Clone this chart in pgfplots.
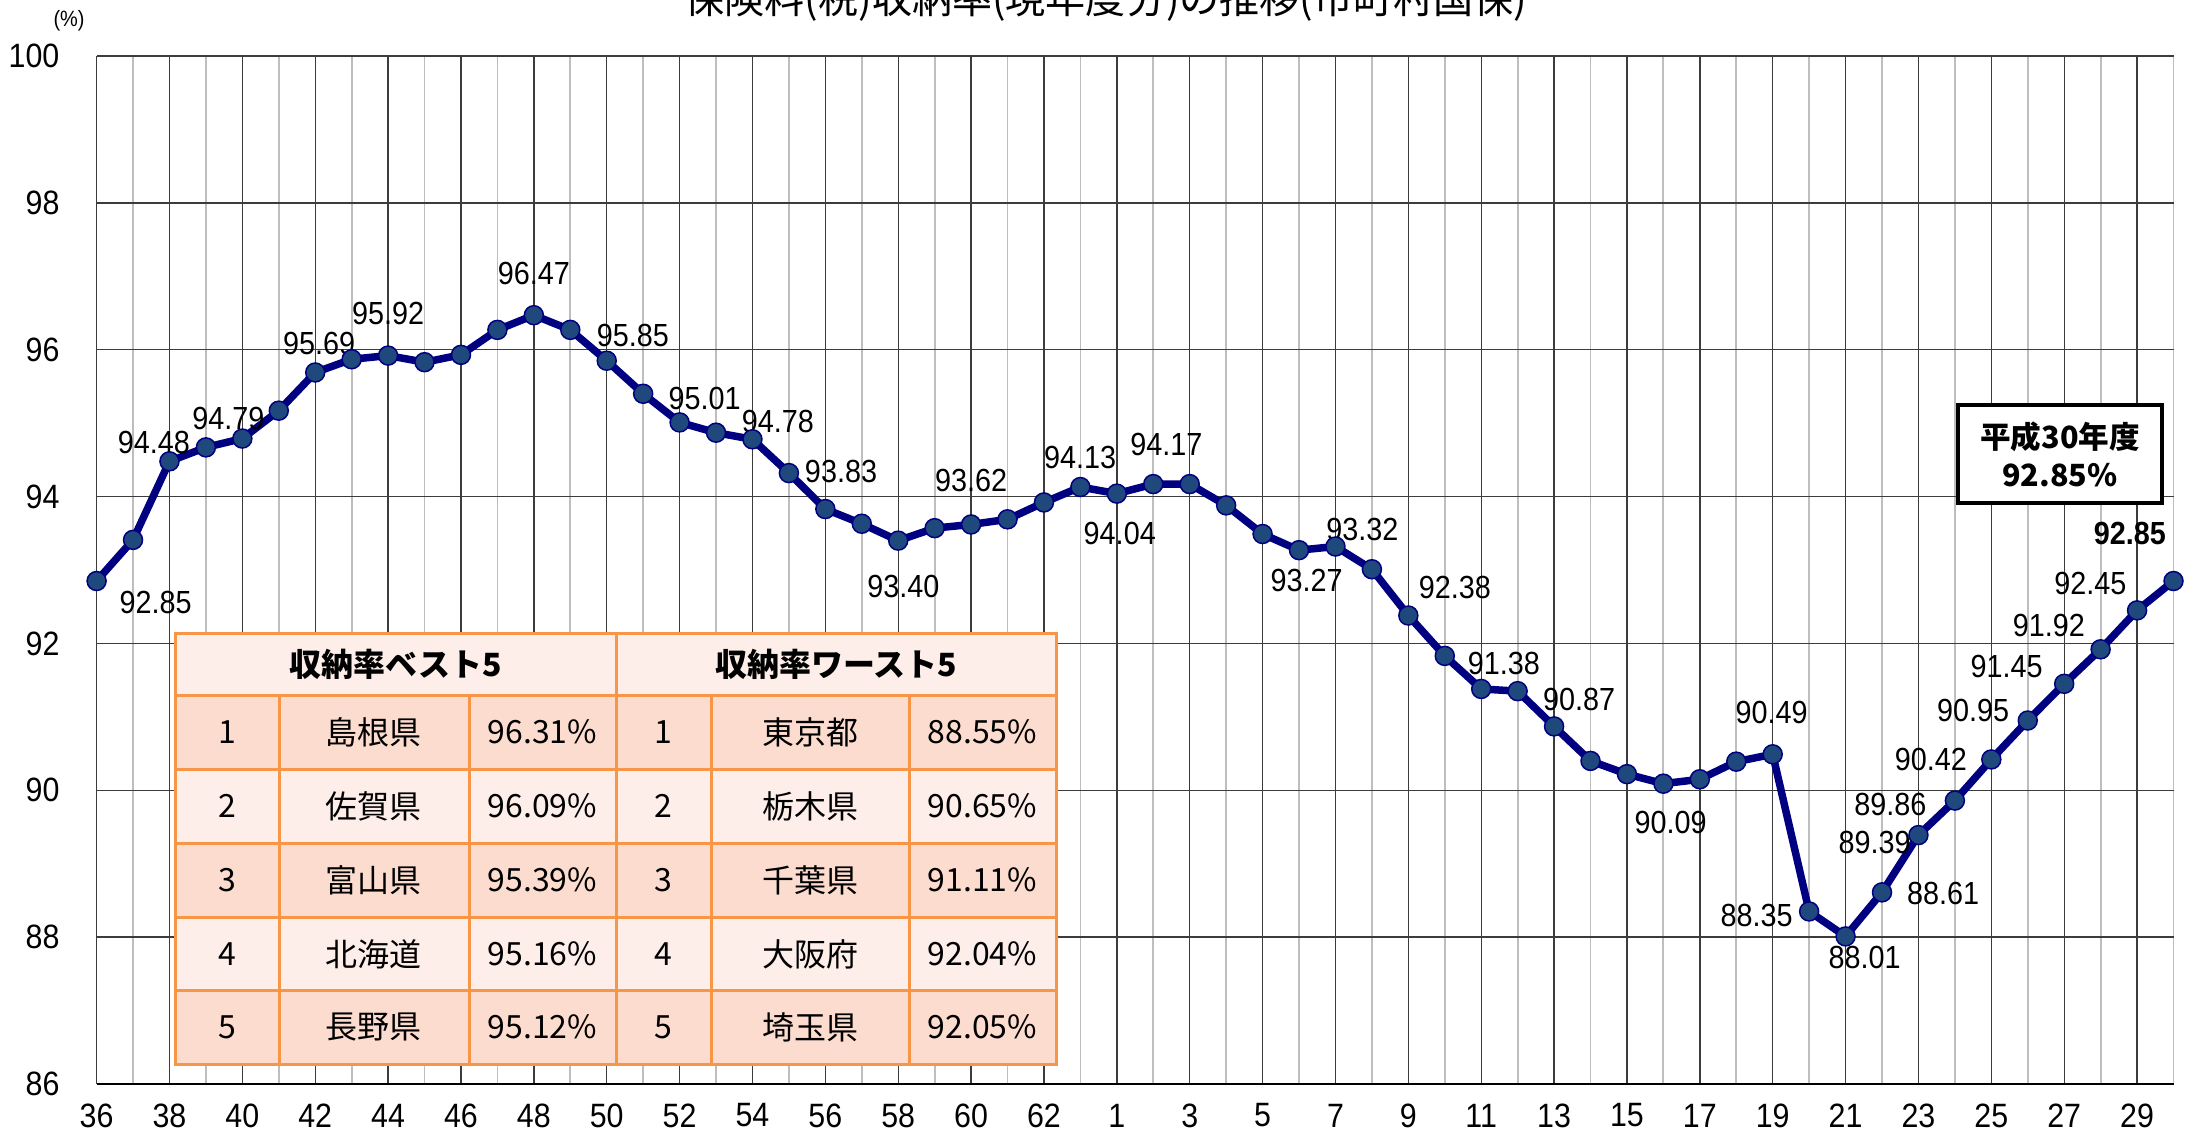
\documentclass[border=0pt]{standalone}
\usepackage{fontspec}
\setmainfont{Liberation Sans}
\newfontfamily\numfont{Liberation Sans}[FakeStretch=0.9]
\newfontfamily\jp{Noto Sans CJK JP}
\usepackage{pgfplots}
\usepackage{pgfplotstable}
\pgfplotsset{compat=1.18}

\definecolor{lineblue}{RGB}{0,0,128}
\definecolor{markblue}{RGB}{31,73,125}
\definecolor{gridmajor}{RGB}{60,60,60}
\definecolor{gridminor}{RGB}{190,190,190}
\definecolor{tborder}{RGB}{247,150,70}
\definecolor{tlight}{RGB}{253,238,233}
\definecolor{tdark}{RGB}{252,220,207}

% index 0 = S36 ... 27 = S63, 28 = H1 ... 57 = H30
\pgfplotstableread{
idx val
0 92.85
1 93.41
2 94.48
3 94.67
4 94.79
5 95.17
6 95.69
7 95.87
8 95.92
9 95.83
10 95.93
11 96.27
12 96.47
13 96.27
14 95.85
15 95.40
16 95.01
17 94.87
18 94.78
19 94.32
20 93.83
21 93.63
22 93.40
23 93.57
24 93.62
25 93.69
26 93.92
27 94.13
28 94.04
29 94.17
30 94.17
31 93.88
32 93.49
33 93.27
34 93.32
35 93.01
36 92.38
37 91.83
38 91.38
39 91.35
40 90.87
41 90.40
42 90.22
43 90.09
44 90.15
45 90.39
46 90.49
47 88.35
48 88.01
49 88.61
50 89.39
51 89.86
52 90.42
53 90.95
54 91.45
55 91.92
56 92.45
57 92.85
}\ratedata

\newcommand{\lbl}[3]{\node[font=\numfont\fontsize{9.1}{10}\selectfont, inner sep=0pt] at (axis cs:#1,#2) {#3};}

\begin{document}
\begin{tikzpicture}
\begin{axis}[
    at={(9.66mm,5.0mm)}, anchor=south west,
    scale only axis,
    width=207.69mm, height=102.8mm,
    xmin=0, xmax=57, ymin=86, ymax=100,
    axis x line=bottom, axis y line=left,
    axis line style={-},
    x axis line style={black, line width=0.22mm},
    y axis line style={gridmajor, line width=0.15mm},
    xtick={0,2,...,56},
    xticklabels={36,38,40,42,44,46,48,50,52,54,56,58,60,62,1,3,5,7,9,11,13,15,17,19,21,23,25,27,29},
    minor xtick={1,3,...,57},
    ytick={86,88,...,100},
    grid=both,
    major grid style={gridmajor, line width=0.14mm},
    minor grid style={gridminor, line width=0.18mm},
    tick style={draw=none},
    /pgf/number format/assume math mode=true,
    tick label style={font=\numfont\fontsize{9.6}{10}\selectfont},
    xticklabel style={anchor=center, inner sep=0pt, yshift=-2.4mm},
    yticklabel style={anchor=east, inner sep=0pt, xshift=-2.9mm},
    clip=false,
]
\addplot[lineblue, line width=0.75mm, mark=*, mark size=0.95mm,
    mark options={fill=markblue, draw=lineblue, line width=0.15mm}]
    table[x=idx, y=val] {\ratedata};

\lbl{1.62}{92.56}{92.85}
\lbl{1.57}{94.73}{94.48}
\lbl{3.62}{95.06}{94.79}
\lbl{6.11}{96.09}{95.69}
\lbl{8.0}{96.49}{95.92}
\lbl{12.0}{97.04}{96.47}
\lbl{14.72}{96.19}{95.85}
\lbl{16.69}{95.34}{95.01}
\lbl{18.7}{95.02}{94.78}
\lbl{20.43}{94.34}{93.83}
\lbl{22.14}{92.77}{93.40}
\lbl{24.0}{94.22}{93.62}
\lbl{26.99}{94.53}{94.13}
\lbl{28.08}{93.50}{94.04}
\lbl{29.36}{94.71}{94.17}
\lbl{33.21}{92.86}{93.27}
\lbl{34.74}{93.55}{93.32}
\lbl{37.28}{92.76}{92.38}
\lbl{38.62}{91.73}{91.38}
\lbl{40.69}{91.23}{90.87}
\lbl{43.2}{89.56}{90.09}
\lbl{45.97}{91.06}{90.49}
\lbl{45.56}{88.29}{88.35}
\lbl{48.52}{87.72}{88.01}
\lbl{50.68}{88.60}{88.61}
\lbl{48.8}{89.29}{89.39}
\lbl{49.23}{89.81}{89.86}
\lbl{50.34}{90.42}{90.42}
\lbl{51.5}{91.08}{90.95}
\lbl{52.42}{91.68}{91.45}
\lbl{53.58}{92.25}{91.92}
\lbl{54.72}{92.82}{92.45}
\node[font=\numfont\bfseries\fontsize{9.1}{10}\selectfont, inner sep=0pt] at (axis cs:55.8,93.50) {92.85};
\end{axis}

% title (cut by the top edge), unit label
\node[font=\jp\fontsize{11.4}{12}\selectfont, anchor=base] at (110.6mm,112.0mm)
    {保険料(税)収納率(現年度分)の推移(市町村国保)};
\node[font=\numfont\fontsize{6.3}{7}\selectfont, inner sep=0pt] at (6.9mm,111.3mm) {(\%)};

% ranking table and annotation box, in pixel units from the top left
\begin{scope}[x=0.1mm, y=-0.1mm, yshift=113.4mm]
  \fill[tlight] (175,633) rectangle (1056,695);
  \fill[tdark]  (175,695) rectangle (1056,769);
  \fill[tlight] (175,769) rectangle (1056,843);
  \fill[tdark]  (175,843) rectangle (1056,917);
  \fill[tlight] (175,917) rectangle (1056,990);
  \fill[tdark]  (175,990) rectangle (1056,1064);
  \begin{scope}[draw=tborder, line width=0.3mm]
    \foreach \yy in {695,769,843,917,990} \draw (175,\yy) -- (1056,\yy);
    \foreach \xx in {279,469,711,909} \draw (\xx,695) -- (\xx,1064);
    \draw (616,633) -- (616,1064);
    \draw (175,633) rectangle (1056,1064);
  \end{scope}
  \begin{scope}[every node/.style={font=\jp\fontsize{9.1}{10}\selectfont, inner sep=0pt}]
    \node[font=\jp\bfseries\fontsize{9.1}{10}\selectfont] at (395.5,664) {収納率ベスト5};
    \node[font=\jp\bfseries\fontsize{9.1}{10}\selectfont] at (836,664) {収納率ワースト5};
    \foreach \r/\yy/\pa/\va/\pb/\vb in {
        1/732/島根県/96.31/東京都/88.55,
        2/806/佐賀県/96.09/栃木県/90.65,
        3/880/富山県/95.39/千葉県/91.11,
        4/954/北海道/95.16/大阪府/92.04,
        5/1027/長野県/95.12/埼玉県/92.05} {
      \node at (227,\yy) {\r};
      \node at (373.5,\yy) {\pa};
      \node at (542.5,\yy) {\va\%};
      \node at (663.5,\yy) {\r};
      \node at (810,\yy) {\pb};
      \node at (982.5,\yy) {\vb\%};
    }
  \end{scope}
  \draw[black, line width=0.4mm, fill=white] (1958,405) rectangle (2162,503);
  \node[font=\jp\bfseries\fontsize{8.7}{9}\selectfont, inner sep=0pt] at (2060,437) {平成30年度};
  \node[font=\jp\bfseries\fontsize{8.7}{9}\selectfont, inner sep=0pt] at (2060,475) {92.85\%};
\end{scope}

\pgfresetboundingbox
\path[use as bounding box] (0,0) rectangle (219.6mm,113.4mm);
\end{tikzpicture}
\end{document}
